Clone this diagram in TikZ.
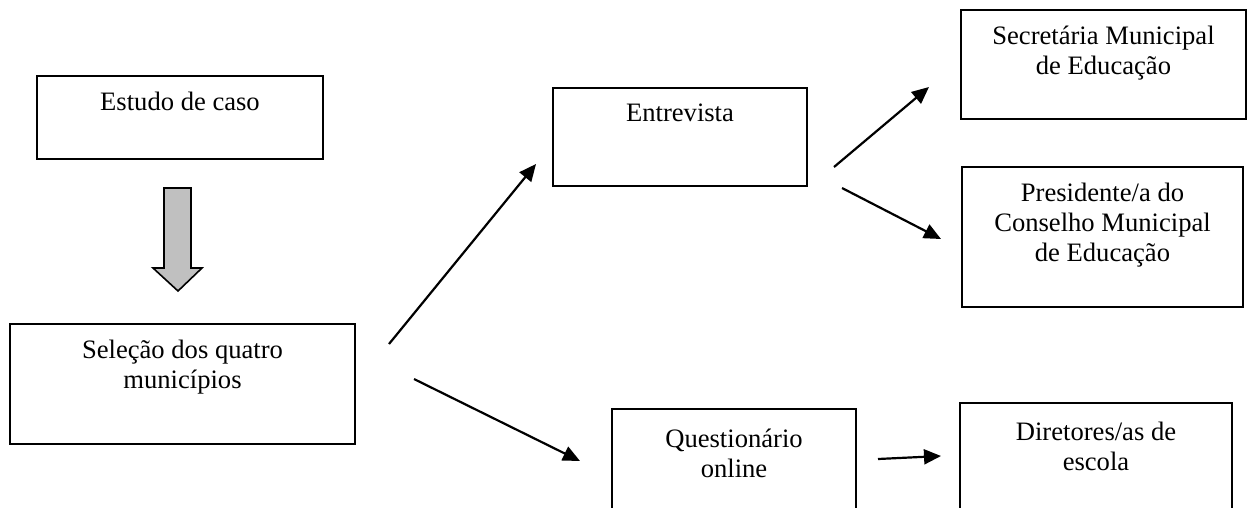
\documentclass[tikz,border=0pt]{standalone}
\usepackage{fontspec}
\setmainfont{Liberation Serif}
\usetikzlibrary{arrows.meta}
\definecolor{arrowgray}{RGB}{192,192,192}
\begin{document}
\begin{tikzpicture}[x=1pt,y=-1pt,
  box/.style={draw=black,line width=1.9pt,fill=white,inner sep=0pt},
  boxtext/.style={anchor=north,inner sep=0pt,align=center,
    font=\fontsize{26.6}{29.7}\selectfont},
  link/.style={line width=2.2pt,-{Triangle[length=17pt,width=15pt]}}]
\useasboundingbox (0,0) rectangle (1251,507);
\clip (0,0) rectangle (1251,507);

% boxes
\node[box,minimum width=286pt,minimum height=83pt]  (estudo)       at (180,117.5)  {};
\node[box,minimum width=345pt,minimum height=120pt] (selecao)      at (182.5,384)  {};
\node[box,minimum width=254pt,minimum height=98pt]  (entrevista)   at (680,137)    {};
\node[box,minimum width=285pt,minimum height=109pt] (secretaria)   at (1103.5,64.5){};
\node[box,minimum width=281pt,minimum height=140pt] (presidente)   at (1102.5,237) {};
\node[box,minimum width=244pt,minimum height=121pt] (questionario) at (734,469.5)  {};
\node[box,minimum width=272pt,minimum height=127pt] (diretores)    at (1096,466.5) {};

% texts, set at the top of each box
\node[boxtext] (estudo-t)       at ([yshift=-17pt]estudo.north)       {Estudo de caso};
\node[boxtext] (selecao-t)      at ([yshift=-17pt]selecao.north)      {Seleção dos quatro\\municípios};
\node[boxtext] (entrevista-t)   at ([yshift=-17pt]entrevista.north)   {Entrevista};
\node[boxtext] (secretaria-t)   at ([yshift=-17pt]secretaria.north)   {Secretária Municipal\\de Educação};
\node[boxtext] (presidente-t)   at ([yshift=-17pt]presidente.north)   {Presidente/a do\\Conselho Municipal\\de Educação};
\node[boxtext] (questionario-t) at ([yshift=-21pt]questionario.north) {Questionário\\online};
\node[boxtext] (diretores-t)    at ([yshift=-20pt]diretores.north)    {Diretores/as de\\escola};

% block arrow between the two left boxes
\draw[line width=1.6pt,line join=miter,fill=arrowgray]
  (164,188) -- (191,188) -- (191,268) -- (202,268) -- (178,291)
  -- (153,268) -- (164,268) -- cycle;

% free ends of the connectors
\coordinate (s1) at (389,344);  \coordinate (e1) at (536,164);
\coordinate (s2) at (414,379);  \coordinate (e2) at (580,461);
\coordinate (s3) at (834,167);  \coordinate (e3) at (929,87);
\coordinate (s4) at (842,188);  \coordinate (e4) at (941,239);
\coordinate (s5) at (878,459);  \coordinate (e5) at (941,456);

\draw[link] (s1) -- (e1);
\draw[link] (s2) -- (e2);
\draw[link] (s3) -- (e3);
\draw[link] (s4) -- (e4);
\draw[link] (s5) -- (e5);
\end{tikzpicture}
\end{document}
